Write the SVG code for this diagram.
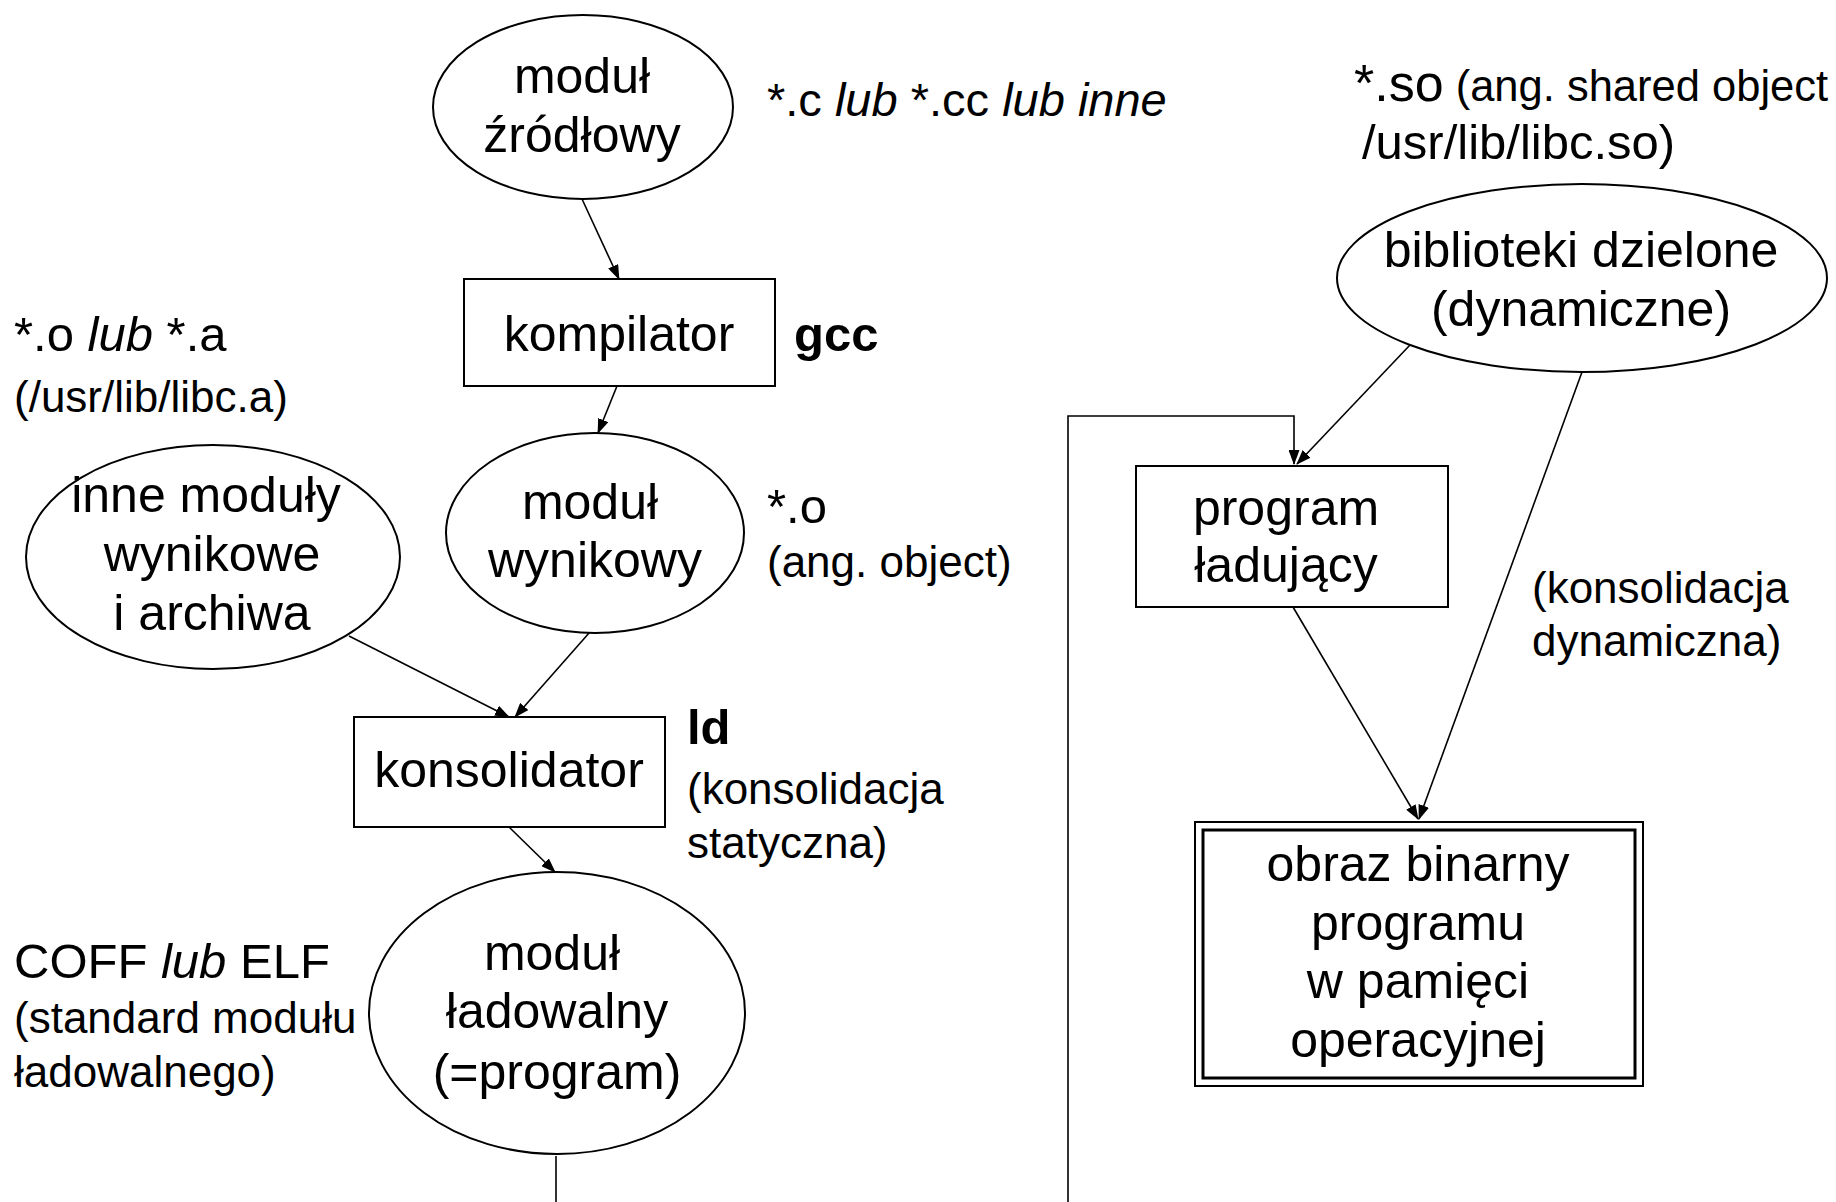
<svg xmlns="http://www.w3.org/2000/svg" width="1836" height="1202" viewBox="0 0 1836 1202">
  <style>
    text { font-family: "Liberation Sans", Arial, sans-serif; fill: #000; }
    .lbl { font-size: 50px; text-anchor: middle; }
    .note { font-size: 49px; }
    .small { font-size: 44px; }
    .shape { fill: #fff; stroke: #000; stroke-width: 2; }
    .conn { fill: none; stroke: #000; stroke-width: 1.6; }
    .b { font-weight: bold; }
    .i { font-style: italic; }
  </style>
  <defs>
    <marker id="arrow" markerWidth="15" markerHeight="11" refX="14" refY="5.5" orient="auto" markerUnits="userSpaceOnUse">
      <path d="M0,0 L15,5.5 L0,11 z" fill="#000"/>
    </marker>
  </defs>

  <rect width="1836" height="1202" fill="#fff"/>

  <!-- connectors -->
  <g id="connectors">
    <line class="conn" x1="582" y1="199" x2="619" y2="279" marker-end="url(#arrow)"/>
    <line class="conn" x1="617" y1="386" x2="598" y2="433" marker-end="url(#arrow)"/>
    <line class="conn" x1="349" y1="636" x2="509" y2="717" marker-end="url(#arrow)"/>
    <line class="conn" x1="597" y1="624" x2="515" y2="717" marker-end="url(#arrow)"/>
    <line class="conn" x1="509" y1="827" x2="555" y2="872" marker-end="url(#arrow)"/>
    <!-- program fed to the loader -->
    <polyline class="conn" points="556,1156 556,1202"/>
    <polyline class="conn" points="1068,1202 1068,416 1294,416 1294,464" marker-end="url(#arrow)"/>
    <line class="conn" x1="1410" y1="345" x2="1297" y2="464" marker-end="url(#arrow)"/>
    <line class="conn" x1="1293" y1="607" x2="1418" y2="819" marker-end="url(#arrow)"/>
    <line class="conn" x1="1582" y1="372" x2="1419" y2="819" marker-end="url(#arrow)"/>
  </g>

  <!-- nodes -->
  <g id="source">
    <ellipse class="shape" cx="583" cy="107" rx="150" ry="92"/>
    <text class="lbl" x="582" y="93">moduł</text>
    <text class="lbl" x="582" y="152">źródłowy</text>
  </g>

  <g id="compiler">
    <rect class="shape" x="464" y="279" width="311" height="107"/>
    <text class="lbl" x="619" y="351">kompilator</text>
  </g>

  <g id="object">
    <ellipse class="shape" cx="595" cy="533" rx="149" ry="100"/>
    <text class="lbl" x="590" y="519">moduł</text>
    <text class="lbl" x="595" y="577">wynikowy</text>
  </g>

  <g id="other-objects">
    <ellipse class="shape" cx="213" cy="557" rx="187" ry="112"/>
    <text class="lbl" x="206" y="512">inne moduły</text>
    <text class="lbl" x="212" y="571">wynikowe</text>
    <text class="lbl" x="212" y="630">i archiwa</text>
  </g>

  <g id="linker">
    <rect class="shape" x="354" y="717" width="311" height="110"/>
    <text class="lbl" x="509" y="787">konsolidator</text>
  </g>

  <g id="executable">
    <ellipse class="shape" cx="557" cy="1013" rx="188" ry="141"/>
    <text class="lbl" x="552" y="970">moduł</text>
    <text class="lbl" x="557" y="1028">ładowalny</text>
    <text class="lbl" x="557" y="1089">(=program)</text>
  </g>

  <g id="shared-libs">
    <ellipse class="shape" cx="1582" cy="278" rx="245" ry="94"/>
    <text class="lbl" x="1581" y="267">biblioteki dzielone</text>
    <text class="lbl" x="1581" y="326">(dynamiczne)</text>
  </g>

  <g id="loader">
    <rect class="shape" x="1136" y="466" width="312" height="141"/>
    <text class="lbl" x="1286" y="525">program</text>
    <text class="lbl" x="1286" y="582">ładujący</text>
  </g>

  <g id="memory-image">
    <rect class="shape" x="1195" y="822" width="448" height="264" stroke-width="3.5"/>
    <rect x="1203" y="830" width="432" height="248" fill="none" stroke="#000" stroke-width="3"/>
    <text class="lbl" x="1418" y="881">obraz binarny</text>
    <text class="lbl" x="1418" y="940">programu</text>
    <text class="lbl" x="1418" y="998">w pamięci</text>
    <text class="lbl" x="1418" y="1057">operacyjnej</text>
  </g>

  <!-- annotations -->
  <g id="notes">
    <text x="767" y="116" font-size="47">*.c <tspan class="i">lub</tspan> *.cc <tspan class="i">lub inne</tspan></text>
    <text class="note b" x="794" y="351">gcc</text>
    <text class="note" x="14" y="351">*.o <tspan class="i">lub</tspan> *.a</text>
    <text class="small" x="14" y="412">(/usr/lib/libc.a)</text>
    <text class="note" x="767" y="523">*.o</text>
    <text class="small" x="767" y="577">(ang. object)</text>
    <text class="note b" x="687" y="744">ld</text>
    <text class="small" x="687" y="804">(konsolidacja</text>
    <text class="small" x="687" y="858">statyczna)</text>
    <text class="note" x="14" y="978">COFF <tspan class="i">lub</tspan> ELF</text>
    <text class="small" x="14" y="1033">(standard modułu</text>
    <text class="small" x="14" y="1087">ładowalnego)</text>
    <text x="1354" y="101" font-size="43.5"><tspan font-size="52">*.so</tspan> (ang. shared object</text>
    <text x="1362" y="159" font-size="49">/usr/lib/libc.so)</text>
    <text class="small" x="1532" y="603">(konsolidacja</text>
    <text class="small" x="1532" y="656">dynamiczna)</text>
  </g>
</svg>
